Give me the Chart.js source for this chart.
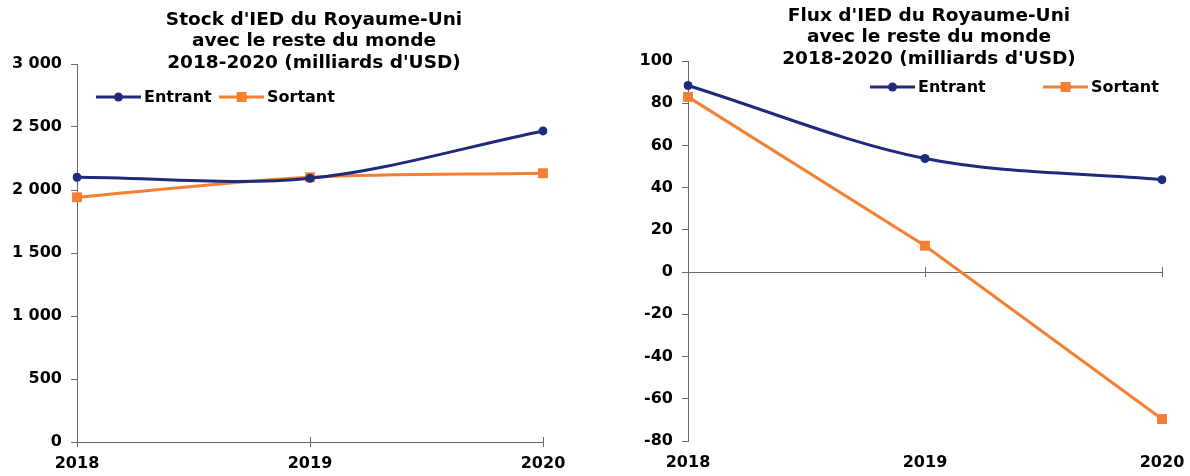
<!DOCTYPE html>
<html>
<head>
<meta charset="utf-8">
<script src="https://cdn.jsdelivr.net/npm/chart.js@4/dist/chart.umd.min.js"></script>
<style>
  html, body { margin: 0; padding: 0; background: #ffffff; }
  .panel { position: absolute; top: 0; width: 595px; height: 476px; }
  #p1 { left: 0; }
  #p2 { left: 595px; }
</style>
</head>
<body>
<div class="panel" id="p1"><canvas id="stock" width="595" height="476"></canvas></div>
<div class="panel" id="p2"><canvas id="flux" width="595" height="476"></canvas></div>
<script>
// Years on the horizontal axis
const years = ['2018', '2019', '2020'];

// FDI stock, billions of USD
const stockInward  = [2101, 2093, 2469];
const stockOutward = [1942, 2101, 2133];

// FDI flows, billions of USD
const fluxInward  = [88.4, 53.8, 43.8];
const fluxOutward = [83.0, 12.5, -69.6];

// Series names
const seriesNames = ['Entrant', 'Sortant'];

// Titles (one entry per line)
const stockTitle = ["Stock d'IED du Royaume-Uni", 'avec le reste du monde', "2018-2020 (milliards d'USD)"];
const fluxTitle  = ["Flux d'IED du Royaume-Uni", 'avec le reste du monde', "2018-2020 (milliards d'USD)"];

const NAVY = '#202a7c';
const ORANGE = '#f67f33';
const AXIS = '#6a6a6a';
const FONT = '"DejaVu Sans", Verdana, sans-serif';

Chart.defaults.font.family = FONT;
Chart.defaults.color = '#000000';

function fmtThousands(v) {
  const s = String(Math.abs(v)).replace(/\B(?=(\d{3})+(?!\d))/g, ' ');
  return (v < 0 ? '-' : '') + s;
}

// Draws the multi-line title centred over the plot area, the legend,
// and the small tick marks crossing the zero line at each year.
const decorations = {
  id: 'decorations',
  afterDatasetsDraw(chart, args, opts) {
    const ctx = chart.ctx;
    const area = chart.chartArea;
    const x = chart.scales.x, y = chart.scales.y;
    ctx.save();

    // crossing tick marks on the zero line
    const y0 = y.getPixelForValue(0);
    ctx.strokeStyle = AXIS;
    ctx.lineWidth = 1;
    years.forEach((yr, i) => {
      const px = Math.round(x.getPixelForValue(i)) + 0.5;
      ctx.beginPath();
      ctx.moveTo(px, y0 - 5);
      ctx.lineTo(px, y0 + 5);
      ctx.stroke();
    });

    // title
    ctx.fillStyle = '#000';
    ctx.font = 'bold 18.5px ' + FONT;
    ctx.textAlign = 'center';
    ctx.textBaseline = 'middle';
    const cx = (area.left + area.right) / 2 + 4;
    opts.title.forEach((line, i) => ctx.fillText(line, cx, opts.titleY + i * opts.titleStep));

    // legend
    ctx.font = 'bold 16px ' + FONT;
    ctx.textAlign = 'left';
    opts.legend.forEach((item, i) => {
      const ds = chart.data.datasets[i];
      const ly = opts.legendY;
      ctx.strokeStyle = ds.borderColor;
      ctx.lineWidth = 3;
      ctx.beginPath();
      ctx.moveTo(item.x, ly);
      ctx.lineTo(item.x + 45, ly);
      ctx.stroke();
      ctx.fillStyle = ds.borderColor;
      const mx = item.x + 22.5;
      if (ds.pointStyle === 'rect') {
        ctx.fillRect(mx - 5, ly - 5, 10, 10);
      } else {
        ctx.beginPath();
        ctx.arc(mx, ly, 4.5, 0, Math.PI * 2);
        ctx.fill();
      }
      ctx.fillStyle = '#000';
      ctx.fillText(ds.label, item.x + 48, ly + 1);
    });
    ctx.restore();
  }
};

function lineDataset(label, data, color, style, tension) {
  return {
    label: label,
    data: data,
    borderColor: color,
    backgroundColor: color,
    borderWidth: 3,
    pointStyle: style,
    pointRadius: style === 'rect' ? 7 : 4.5,
    pointHoverRadius: style === 'rect' ? 7 : 4.5,
    pointBorderWidth: 0,
    tension: tension,
    fill: false
  };
}

function makeChart(id, cfg) {
  return new Chart(document.getElementById(id), {
    type: 'line',
    data: {
      labels: years,
      datasets: [
        lineDataset(seriesNames[0], cfg.inward, NAVY, 'circle', 0.33),
        lineDataset(seriesNames[1], cfg.outward, ORANGE, 'rect', cfg.outTension)
      ]
    },
    options: {
      responsive: false,
      animation: false,
      layout: { padding: { top: cfg.top, right: cfg.right, left: 0, bottom: 0 } },
      plugins: {
        legend: { display: false },
        title: { display: false },
        tooltip: { enabled: false },
        decorations: {
          title: cfg.title,
          titleY: cfg.titleY,
          titleStep: cfg.titleStep,
          legendY: cfg.legendY,
          legend: cfg.legend
        }
      },
      scales: {
        x: {
          type: 'category',
          offset: false,
          afterFit(s) {
            s.height = cfg.xHeight;
            s.paddingLeft = 0;
            s.paddingRight = 0;
          },
          grid: { display: false, drawTicks: false },
          border: { display: cfg.xBorder, color: AXIS, width: 1 },
          ticks: { padding: 12, font: { size: 16, weight: 'bold' }, color: '#000', maxRotation: 0 }
        },
        y: {
          min: cfg.min,
          max: cfg.max,
          afterFit(s) {
            s.width = cfg.yWidth;
            s.paddingTop = 0;
            s.paddingBottom = 0;
          },
          grid: {
            drawOnChartArea: cfg.zeroGrid,
            color: (c) => (c.tick && c.tick.value === 0 ? AXIS : 'rgba(0,0,0,0)'),
            tickColor: AXIS,
            tickLength: 6,
            lineWidth: 1
          },
          border: { display: true, color: AXIS, width: 1 },
          ticks: {
            stepSize: cfg.step,
            padding: 9,
            font: { size: 16, weight: 'bold' },
            color: '#000',
            callback: (v) => fmtThousands(v)
          }
        }
      }
    },
    plugins: [decorations]
  });
}

makeChart('stock', {
  inward: stockInward, outward: stockOutward, outTension: 0.33,
  min: 0, max: 3000, step: 500,
  top: 64, right: 52, yWidth: 77, xHeight: 34,
  xBorder: true, zeroGrid: false,
  title: stockTitle, titleY: 20, titleStep: 21.5, legendY: 97,
  legend: [{ x: 96 }, { x: 219 }]
});

makeChart('flux', {
  inward: fluxInward, outward: fluxOutward, outTension: 0,
  min: -80, max: 100, step: 20,
  top: 61, right: 28, yWidth: 93, xHeight: 35,
  xBorder: false, zeroGrid: true,
  title: fluxTitle, titleY: 16, titleStep: 21.5, legendY: 87,
  legend: [{ x: 275 }, { x: 448 }]
});
</script>
</body>
</html>
